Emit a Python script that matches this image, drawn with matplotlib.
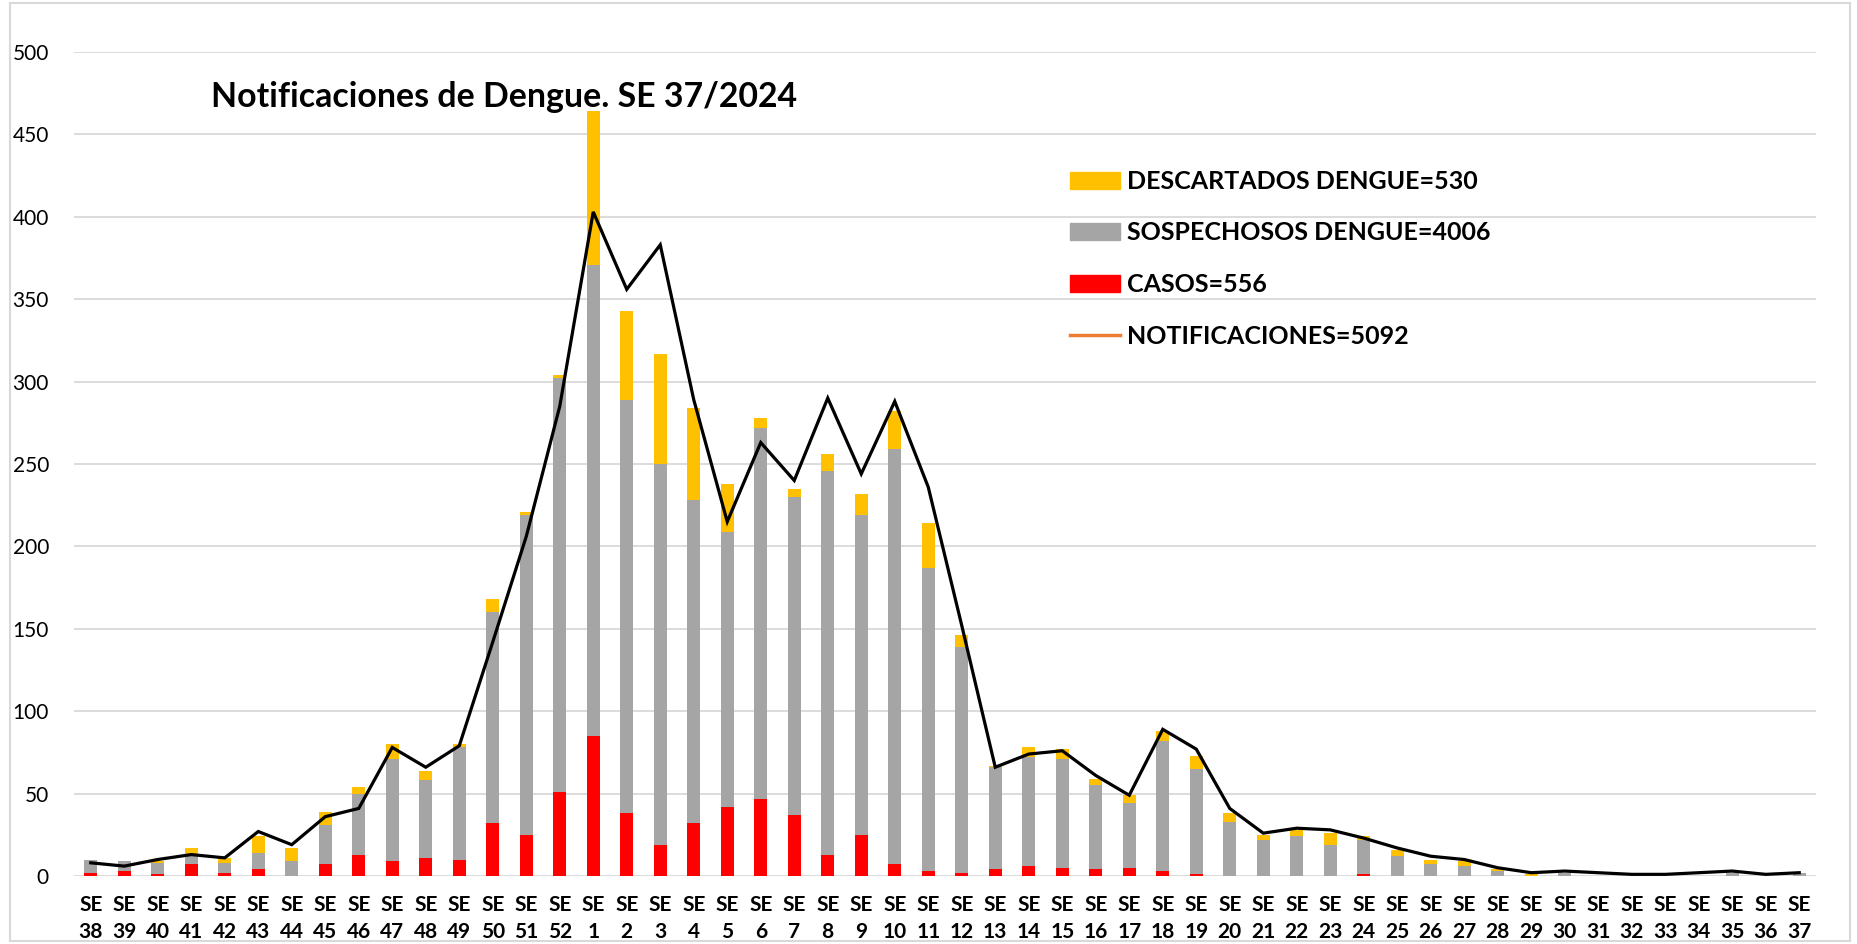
import numpy as np
import matplotlib.pyplot as plt
from matplotlib.patches import Patch, Rectangle
from matplotlib.lines import Line2D

plt.rcParams['font.family'] = ['Lato', 'DejaVu Sans']

# =========================
# DATA
# =========================
semanas = [38, 39, 40, 41, 42, 43, 44, 45, 46, 47, 48, 49, 50, 51, 52,
           1, 2, 3, 4, 5, 6, 7, 8, 9, 10, 11, 12, 13, 14, 15, 16, 17, 18, 19,
           20, 21, 22, 23, 24, 25, 26, 27, 28, 29, 30, 31, 32, 33, 34, 35, 36, 37]

casos = [2, 3, 1, 7, 2, 4, 0, 7, 13, 9, 11, 10, 32, 25, 51,
         85, 38, 19, 32, 42, 47, 37, 13, 25, 7, 3, 2,
         4, 6, 5, 4, 5, 3, 1,
         0, 0, 0, 0, 1, 0, 0, 0, 0, 0, 0, 0, 0, 0, 0, 0, 0, 0]

sospechosos = [8, 6, 7, 6, 6, 10, 9, 24, 37, 62, 47, 68, 128, 194, 251,
               286, 251, 231, 196, 167, 225, 193, 233, 194, 252, 184, 137,
               62, 66, 66, 51, 39, 79, 64,
               33, 22, 24, 19, 21, 12, 7, 6, 3, 0, 2, 0, 0, 0, 0, 2, 0, 2]

descartados = [0, 0, 1, 4, 3, 10, 8, 8, 4, 9, 6, 2, 8, 2, 2,
               93, 54, 67, 56, 29, 6, 5, 10, 13, 23, 27, 7,
               1, 6, 6, 4, 5, 6, 8,
               5, 3, 4, 7, 2, 4, 3, 3, 1, 1, 0, 0, 0, 0, 0, 0, 0, 0]

notificaciones = [8, 6, 10, 13, 11, 27, 19, 36, 41, 78, 66, 79, 142, 206, 285,
                  403, 356, 383, 289, 215, 263, 240, 290, 244, 288, 236, 152,
                  66, 74, 76, 61, 49, 89, 77,
                  41, 26, 29, 28, 23, 17, 12, 10, 5, 2, 3, 2, 1, 1, 2, 3, 1, 2]

labels_leyenda = ["DESCARTADOS DENGUE=530", "SOSPECHOSOS DENGUE=4006",
                  "CASOS=556", "NOTIFICACIONES=5092"]
titulo = "Notificaciones de Dengue. SE 37/2024"

# =========================
# COLORS
# =========================
c_red = "#FF0000"
c_gray = "#A5A5A5"
c_yellow = "#FFC000"
c_orange = "#ED7D31"
c_grid = "#D9D9D9"

# =========================
# FIGURE
# =========================
W, H = 1858, 944
fig = plt.figure(figsize=(W / 100, H / 100), dpi=100)
ax = fig.add_axes([74 / W, 1 - 876 / H, (1816 - 74) / W, (876 - 52) / H])

x = np.arange(len(semanas))
casos = np.array(casos)
sospechosos = np.array(sospechosos)
descartados = np.array(descartados)

bw = 0.4
ax.bar(x, casos, bw, color=c_red, zorder=2)
ax.bar(x, sospechosos, bw, bottom=casos, color=c_gray, zorder=2)
ax.bar(x, descartados, bw, bottom=casos + sospechosos, color=c_yellow, zorder=2)
ax.plot(x, notificaciones, color="black", lw=2.3, zorder=3, solid_joinstyle="miter")

ax.set_xlim(-0.5, len(semanas) - 0.5)
ax.set_ylim(0, 500)
ax.set_yticks(range(0, 501, 50))
ax.yaxis.grid(True, color=c_grid, lw=1.3, zorder=0)
ax.set_axisbelow(True)
for s in ax.spines.values():
    s.set_visible(False)
ax.tick_params(axis="both", length=0)
ax.tick_params(axis="y", labelsize=15, pad=18)

ax.set_xticks(x)
ax.set_xticklabels([f"SE\n{s}" for s in semanas], fontsize=15, fontweight="bold",
                   linespacing=1.4)
ax.tick_params(axis="x", pad=14)

# title
fig.text(211 / W, 1 - 107 / H, titulo, fontsize=24.4, fontweight="bold",
         va="baseline", ha="left")

# legend
handles = [Patch(color=c_yellow), Patch(color=c_gray), Patch(color=c_red),
           Line2D([], [], color=c_orange, lw=2.5)]
fig.legend(handles, labels_leyenda, loc="upper left",
           bbox_to_anchor=(1070 / W, 1 - 170 / H), frameon=False,
           prop={"weight": "bold", "size": 18}, borderpad=0, borderaxespad=0,
           handlelength=2.0, handleheight=0.68, handletextpad=0.3,
           labelspacing=1.14)

# chart border
fig.patches.append(Rectangle((10 / W, 3 / H), (W - 18) / W, (H - 6) / H,
                             transform=fig.transFigure, fill=False,
                             edgecolor=c_grid, lw=1.5))

fig.savefig("out.png", dpi=100)
